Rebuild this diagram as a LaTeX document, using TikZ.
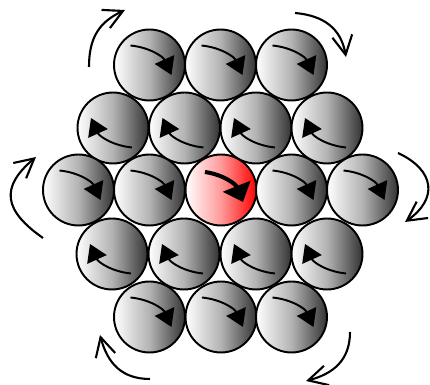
\documentclass[tikz,border=0pt]{standalone}
\usepackage{tikz}
\usetikzlibrary{arrows.meta}
\tikzset{
  ball-node/.style={circle, draw=black, line width=1.1pt, minimum size=1.42cm,
    inner sep=0pt, left color=white, right color=black!80, middle color=black!30},
  hot-node/.style={ball-node, left color=white, right color=red, middle color=red!40},
  spin-arrow/.style={-{Triangle[length=0.34cm, width=0.42cm]}, line width=1.1pt},
  hot-arrow/.style={-{Triangle[length=0.34cm, width=0.58cm]}, line width=2.3pt},
  turn-arrow/.style={-{Straight Barb[length=0.38cm, width=0.4cm]}, line width=1.2pt}
}
\begin{document}
\begin{tikzpicture}[x=0.02cm, y=0.02cm]
\useasboundingbox (0,0) rectangle (430,385);
% hexagonal pack of balls, rows of 3-4-5-4-3
\node[ball-node] (ball11) at (149.5,320) {};
\node[ball-node] (ball12) at (220.5,320) {};
\node[ball-node] (ball13) at (291.5,320) {};
\node[ball-node] (ball21) at (113,257) {};
\node[ball-node] (ball22) at (184.5,257) {};
\node[ball-node] (ball23) at (256,257) {};
\node[ball-node] (ball24) at (327,257) {};
\node[ball-node] (ball31) at (78.5,195) {};
\node[ball-node] (ball32) at (149.5,195) {};
\node[hot-node]  (ball33) at (221,195) {};
\node[ball-node] (ball34) at (291.5,195) {};
\node[ball-node] (ball35) at (362.5,195) {};
\node[ball-node] (ball41) at (112,131) {};
\node[ball-node] (ball42) at (184,131) {};
\node[ball-node] (ball43) at (256,131) {};
\node[ball-node] (ball44) at (327,131) {};
\node[ball-node] (ball51) at (149.5,68) {};
\node[ball-node] (ball52) at (221,68) {};
\node[ball-node] (ball53) at (291.5,68) {};
% spin marks: odd rows head right, even rows the same mark turned half round
\foreach \b in {ball11,ball12,ball13,ball31,ball32,ball34,ball35,ball51,ball52,ball53}
  \draw[spin-arrow] ([shift={(-19,19.5)}]\b.center) to[bend left=30] ([shift={(22,-10)}]\b.center);
\foreach \b in {ball21,ball22,ball23,ball24,ball41,ball42,ball43,ball44}
  \draw[spin-arrow] ([shift={(19,-19.5)}]\b.center) to[bend left=30] ([shift={(-22,10)}]\b.center);
\draw[hot-arrow] ([shift={(-16,18)}]ball33.center) to[bend left=30] ([shift={(22,-12)}]ball33.center);
% six turning arrows round the pack, clockwise
\coordinate (tl-start) at (89,318);  \coordinate (tl-end) at (125,375);
\coordinate (tr-start) at (295,372); \coordinate (tr-end) at (346,328);
\coordinate (r-start)  at (398,232); \coordinate (r-end)  at (405,163);
\coordinate (br-start) at (350,53);  \coordinate (br-end) at (306,4);
\coordinate (bl-start) at (150,6);   \coordinate (bl-end) at (100,50);
\coordinate (l-start)  at (43,147);  \coordinate (l-end)  at (36,228);
\draw[turn-arrow] (tl-start) to[out=90, in=205, looseness=1.1] (tl-end);
\draw[turn-arrow] (tr-start) to[out=-5, in=100, looseness=1.1] (tr-end);
\draw[turn-arrow] (r-start) to[out=-25, in=35, looseness=1.5] (r-end);
\draw[turn-arrow] (br-start) to[out=-90, in=15, looseness=1.1] (br-end);
\draw[turn-arrow] (bl-start) to[out=180, in=285, looseness=1.1] (bl-end);
\draw[turn-arrow] (l-start) to[out=145, in=220, looseness=1.5] (l-end);
\end{tikzpicture}
\end{document}
